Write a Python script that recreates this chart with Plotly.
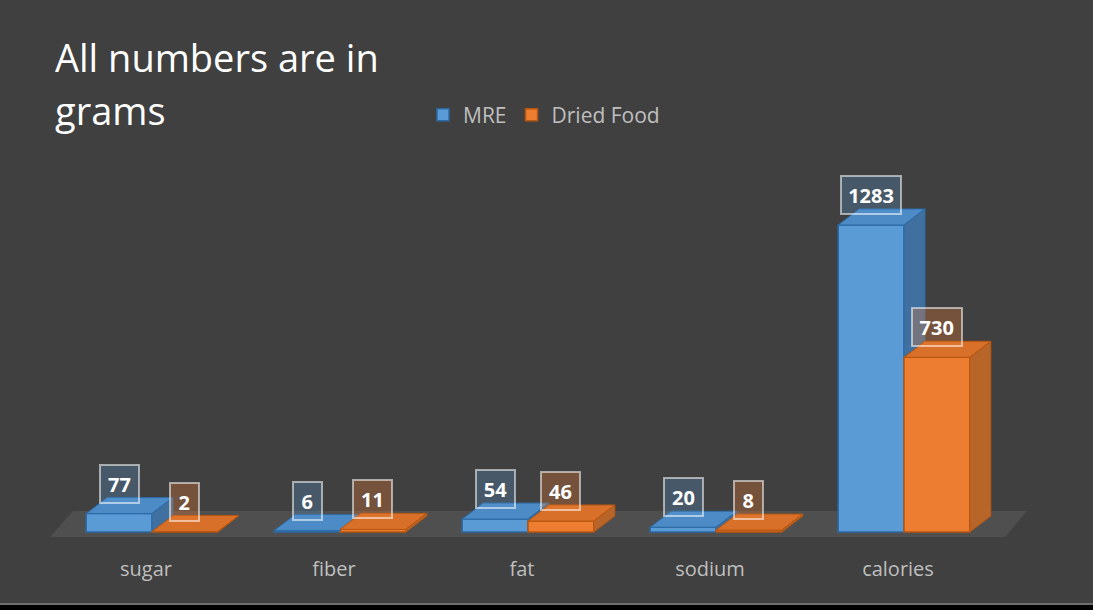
import plotly.graph_objects as go

# ---------------- data ----------------
categories = ["sugar", "fiber", "fat", "sodium", "calories"]
mre_values = [77, 6, 54, 20, 1283]
dried_values = [2, 11, 46, 8, 730]
series_names = ["MRE", "Dried Food"]
title_lines = ["All numbers are in", "grams"]

# ---------------- layout / style ----------------
W, H = 1093, 610
ML, MR, MT, MB = 58, 95, 160, 65
X_RANGE = [-0.5, 4.5]
Y_RANGE = [-54.3, 1554.5]
plot_w = W - ML - MR
plot_h = H - MT - MB
px_x = plot_w / (X_RANGE[1] - X_RANGE[0])
px_y = plot_h / (Y_RANGE[1] - Y_RANGE[0])
DX = 21 / px_x          # 3-D depth, horizontal
DY = 16 / px_y          # 3-D depth, vertical
BAR_W = 0.35
OFFSETS = [-0.175, 0.175]

BG = "#404040"
FLOOR = "#4f4f4f"
TEXT_GREY = "#bfbfbf"
FONT = "Open Sans"

styles = [
    dict(front="#5b9bd5", edge="#2c6aa6", top="#4d8bc6", side="#3f70a0",
         label_bg="rgba(91,155,213,0.28)"),
    dict(front="#ed7d31", edge="#b8560f", top="#d9702a", side="#b8652a",
         label_bg="rgba(237,125,49,0.30)"),
]

series = [mre_values, dried_values]
idx = list(range(len(categories)))


def px_to_paper_x(px):
    return (px - ML) / plot_w


def px_to_paper_y(px):
    return (MT + plot_h - px) / plot_h


def data_to_paper_y(y):
    return (y - Y_RANGE[0]) / (Y_RANGE[1] - Y_RANGE[0])


fig = go.Figure()

# front faces (bars)
for s, (name, vals, st, off) in enumerate(zip(series_names, series, styles, OFFSETS)):
    fig.add_trace(go.Bar(
        x=[i + off for i in idx], y=vals, width=BAR_W, name=name,
        marker=dict(color=st["front"], line=dict(color=st["edge"], width=1.5)),
        hoverinfo="skip",
    ))

# top and side faces (3-D effect), derived from the data
for i in idx:
    for s, (vals, st, off) in enumerate(zip(series, styles, OFFSETS)):
        v = vals[i]
        xl = i + off - BAR_W / 2
        xr = xl + BAR_W
        # top face
        fig.add_trace(go.Scatter(
            x=[xl, xr, xr + DX, xl + DX, xl],
            y=[v, v, v + DY, v + DY, v],
            fill="toself", fillcolor=st["top"], mode="lines",
            line=dict(color=st["edge"], width=1), showlegend=False, hoverinfo="skip"))
        # side face (MRE side partially hidden by the neighbouring bar)
        base = min(v, dried_values[i]) if s == 0 else 0
        if v > base:
            fig.add_trace(go.Scatter(
                x=[xr, xr + DX, xr + DX, xr, xr],
                y=[base, base + DY, v + DY, v, base],
                fill="toself", fillcolor=st["side"], mode="lines",
                line=dict(color=st["edge"], width=1), showlegend=False, hoverinfo="skip"))

# data labels
annotations = []
for vals, st, off in zip(series, styles, OFFSETS):
    for i in idx:
        txt = str(vals[i])
        annotations.append(dict(
            x=i + off, y=vals[i], xref="x", yref="y", text=f"<b>{txt}</b>",
            showarrow=False, yshift=30, font=dict(color="white", size=20, family=FONT),
            bgcolor=st["label_bg"], bordercolor="rgba(255,255,255,0.55)", borderwidth=2,
            width=len(txt) * 10.5 + 8, height=28, borderpad=4,
        ))

# title (two lines, Office-like spacing)
for k, line in enumerate(title_lines):
    annotations.append(dict(
        x=px_to_paper_x(53), y=px_to_paper_y(29 + 53 * k), xref="paper", yref="paper",
        xanchor="left", yanchor="top", align="left", showarrow=False,
        text=line, font=dict(color="white", size=38, family=FONT),
    ))

# floor (paper coordinates so it is not clipped by the plot area)
fy0 = data_to_paper_y(-5 / px_y)
fy1 = data_to_paper_y(21 / px_y)
fxb0, fxb1 = px_to_paper_x(50), px_to_paper_x(1005)
fxt0, fxt1 = px_to_paper_x(73), px_to_paper_x(1027)
shapes = [
    dict(type="path", xref="paper", yref="paper", layer="below",
         path=f"M{fxb0},{fy0} L{fxb1},{fy0} L{fxt1},{fy1} L{fxt0},{fy1} Z",
         fillcolor=FLOOR, line=dict(width=0)),
    dict(type="rect", xref="paper", yref="paper", x0=-0.1, x1=1.2,
         y0=px_to_paper_y(612), y1=px_to_paper_y(605),
         fillcolor="black", line=dict(width=0)),
    dict(type="line", xref="paper", yref="paper", x0=-0.1, x1=1.2,
         y0=px_to_paper_y(604), y1=px_to_paper_y(604),
         line=dict(color="#7f7f7f", width=1.5)),
]

fig.update_layout(
    width=W, height=H,
    margin=dict(l=ML, r=MR, t=MT, b=MB, autoexpand=False),
    paper_bgcolor=BG, plot_bgcolor=BG,
    barmode="overlay",
    showlegend=True,
    legend=dict(orientation="h", x=px_to_paper_x(423), y=px_to_paper_y(115),
                xanchor="left", yanchor="middle", bgcolor="rgba(0,0,0,0)",
                font=dict(color=TEXT_GREY, size=21, family=FONT),
                itemwidth=30, traceorder="normal"),
    xaxis=dict(range=X_RANGE, tickvals=[i - 6 / px_x for i in idx], ticktext=categories,
               showgrid=False, zeroline=False, showline=False, ticks="",
               tickfont=dict(color=TEXT_GREY, size=20, family=FONT),
               ticklabelstandoff=10, fixedrange=True),
    yaxis=dict(range=Y_RANGE, visible=False, showgrid=False, zeroline=False, fixedrange=True),
    annotations=annotations,
    shapes=shapes,
)

fig.write_html("out.html")
